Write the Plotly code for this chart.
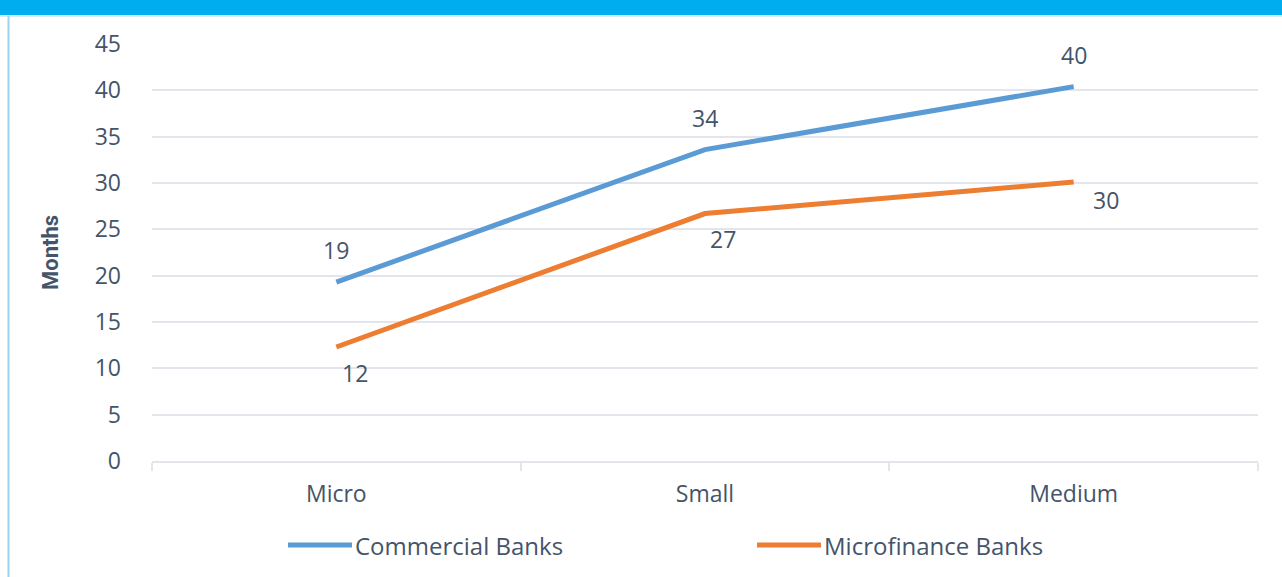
import plotly.graph_objects as go

categories = ["Micro", "Small", "Medium"]
commercial = [19.3, 33.6, 40.4]
microfinance = [12.3, 26.7, 30.1]
series_names = ["Commercial Banks", "Microfinance Banks"]
y_ticks = [0, 5, 10, 15, 20, 25, 30, 35, 40, 45]

W, H = 1282, 577
L, R, T, B = 152, 24, 44, 116
PW, PH = W - L - R, H - T - B

BLUE = "#5B9BD5"
ORANGE = "#ED7D31"
TXT = "#44546A"
GRID = "#E2E5EC"
FONT = "Open Sans"
FS = 23

def px_x(p):
    return (p - L) / PW

def px_y(p):
    return (H - B - p) / PH

fig = go.Figure()
fig.add_trace(go.Scatter(x=categories, y=commercial, mode="lines",
                         line=dict(color=BLUE, width=5), name=series_names[0],
                         showlegend=False, hoverinfo="x+y"))
fig.add_trace(go.Scatter(x=categories, y=microfinance, mode="lines",
                         line=dict(color=ORANGE, width=5), name=series_names[1],
                         showlegend=False, hoverinfo="x+y"))

ann = []
for c, v in zip(categories, commercial):
    ann.append(dict(x=c, y=v, text=str(round(v)), showarrow=False, yshift=32,
                    font=dict(family=FONT, size=FS, color=TXT)))
mf_shift = [(19, -26), (18, -25), (32, -18)]
for (c, v), (dx, dy) in zip(zip(categories, microfinance), mf_shift):
    ann.append(dict(x=c, y=v, text=str(round(v)), showarrow=False, xshift=dx, yshift=dy,
                    font=dict(family=FONT, size=FS, color=TXT)))

# manual legend
leg = [(288, 352, BLUE, series_names[0]), (757, 821, ORANGE, series_names[1])]
shapes = []
ly = px_y(545)
for x0, x1, col, name in leg:
    shapes.append(dict(type="line", xref="paper", yref="paper", x0=px_x(x0), x1=px_x(x1),
                       y0=ly, y1=ly, line=dict(color=col, width=5)))
    ann.append(dict(xref="paper", yref="paper", x=px_x(x1 + 1), y=ly, xanchor="left",
                    yanchor="middle", text=name, showarrow=False,
                    font=dict(family=FONT, size=FS + 1, color=TXT)))

# header bar and left border
shapes.append(dict(type="rect", xref="paper", yref="paper", x0=px_x(0), x1=px_x(W),
                   y0=px_y(15), y1=px_y(-2), fillcolor="#00ADEE", line=dict(width=0), layer="below"))
shapes.append(dict(type="line", xref="paper", yref="paper", x0=px_x(0), x1=px_x(W),
                   y0=px_y(16), y1=px_y(16), line=dict(color="#A8DDF5", width=1)))
shapes.append(dict(type="line", xref="paper", yref="paper", x0=px_x(8.5), x1=px_x(8.5),
                   y0=px_y(16), y1=px_y(H + 2), line=dict(color="#9CD4F0", width=2)))

ann.append(dict(xref="paper", yref="paper", x=px_x(50), y=px_y(253), text="<b>Months</b>",
                textangle=-90, showarrow=False, xanchor="center", yanchor="middle",
                font=dict(family="Roboto", size=22, color=TXT)))

fig.update_layout(
    width=W, height=H,
    margin=dict(l=L, r=R, t=T, b=B),
    paper_bgcolor="white", plot_bgcolor="white",
    font=dict(family=FONT, size=FS, color=TXT),
    xaxis=dict(type="category", range=[-0.5, 2.5], showgrid=False,
               showline=True, linecolor=GRID, linewidth=2,
               ticks="outside", tickson="boundaries", ticklen=8, tickcolor=GRID, tickwidth=2,
               ticklabelstandoff=11, tickfont=dict(family=FONT, size=FS, color=TXT)),
    yaxis=dict(range=[0, 45], tickvals=y_ticks, showgrid=True, gridcolor=GRID, gridwidth=2,
               zeroline=False, showline=False, ticks="", ticklabelstandoff=30,
               tickfont=dict(family=FONT, size=FS, color=TXT)),
    shapes=shapes,
    annotations=ann,
    showlegend=False,
)

fig.write_html("out.html", config={"displayModeBar": False},
               post_script="document.body.style.margin='0';document.body.style.overflow='hidden';")
